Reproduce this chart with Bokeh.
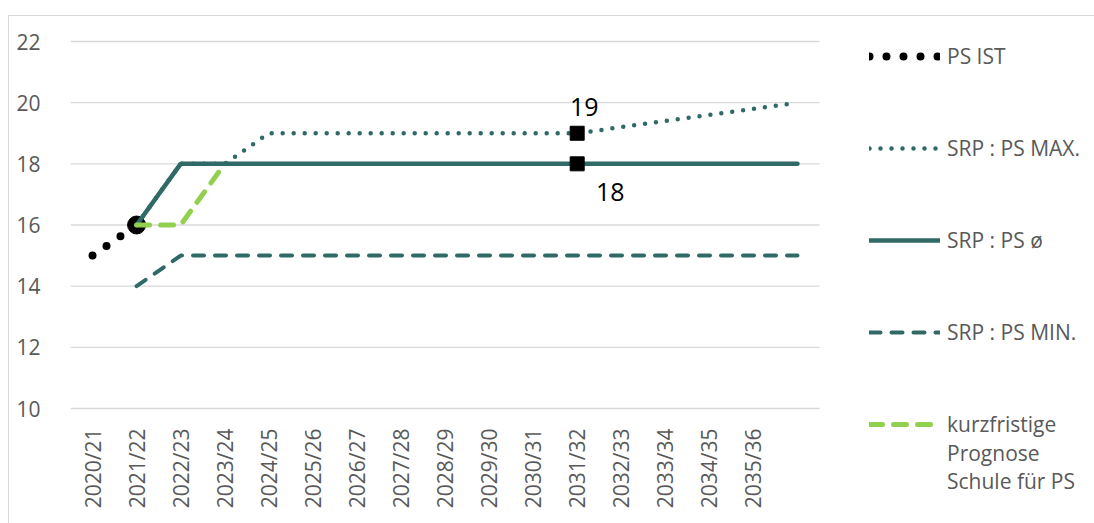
from bokeh.plotting import figure
from bokeh.models import Range1d, Legend, LegendItem, ColumnDataSource
from bokeh.embed import file_html
from bokeh.resources import INLINE
from bokeh.core.properties import value
import math

# categories (last slot has no label in the original chart)
categories = ["2020/21", "2021/22", "2022/23", "2023/24", "2024/25", "2025/26",
              "2026/27", "2027/28", "2028/29", "2029/30", "2030/31", "2031/32",
              "2032/33", "2033/34", "2034/35", "2035/36", ""]

ist_cat = ["2020/21", "2021/22"]
ist_y = [15, 16]

max_cat = categories[1:]
max_y = [16, 18, 18, 19, 19, 19, 19, 19, 19, 19, 19, 19.2, 19.4, 19.6, 19.8, 20]

avg_cat = categories[1:]
avg_y = [16, 18, 18, 18, 18, 18, 18, 18, 18, 18, 18, 18, 18, 18, 18, 18]

min_cat = categories[1:]
min_y = [14, 15, 15, 15, 15, 15, 15, 15, 15, 15, 15, 15, 15, 15, 15, 15]

prog_cat = ["2021/22", "2022/23", "2023/24"]
prog_y = [16, 16, 18]

mark_cat = ["2031/32", "2031/32"]
mark_y = [19, 18]
mark_text = ["19", "18"]

y_ticks = [10, 12, 14, 16, 18, 20, 22]

TEAL = "#2f6a66"
GREEN = "#92d050"
GREY = "#595959"
FONT = "Open Sans"


def pos(cats):
    return [categories.index(c) for c in cats]


n = len(categories)
# frame spans the whole figure; the category block occupies the left 749 of 1025 px
x_end = -0.5 + n * 1025 / 749
px_per_unit = 367 / 12
y_top = y_ticks[-1] + 25 / px_per_unit
y_bottom = y_ticks[0] - 116 / px_per_unit

p = figure(width=1086, height=508, x_range=Range1d(-0.5, x_end),
           y_range=Range1d(y_bottom, y_top), output_backend="svg", toolbar_location=None,
           x_axis_location=None,
           min_border_left=61, min_border_right=0, min_border_top=0, min_border_bottom=0,
           margin=(15, 0, 0, 8))
p.styles = {"border-top": "1px solid #d9d9d9", "border-left": "1px solid #d9d9d9"}
p.outline_line_color = None
p.background_fill_color = "white"
p.border_fill_color = "white"
p.grid.grid_line_color = None

p.yaxis.ticker = y_ticks
p.yaxis.axis_line_color = None
p.yaxis.major_tick_line_color = None
p.yaxis.minor_tick_line_color = None
p.yaxis.major_label_text_font = FONT
p.yaxis.major_label_text_font_size = "21px"
p.yaxis.major_label_text_color = GREY
p.yaxis.major_label_standoff = 24

# horizontal gridlines across the category block
p.segment(x0=-0.5, x1=n - 0.5, y0=y_ticks, y1=y_ticks, line_color="#d9d9d9", line_width=1.3)

# category labels (vertical)
p.text(x=list(range(n)), y=y_ticks[0], text=categories, angle=math.pi / 2,
       y_offset=20, text_align="right", text_baseline="middle",
       text_font=value(FONT), text_font_size="21px", text_color=GREY)

r_ist = p.line(pos(ist_cat), ist_y, line_color="black", line_width=8, line_dash="0 17",
               line_cap="round")
p.scatter(pos(ist_cat[-1:]), ist_y[-1:], size=18, color="black")

r_max = p.line(pos(max_cat), max_y, line_color=TEAL, line_width=4.5, line_dash="0 11",
               line_cap="round")
r_avg = p.line(pos(avg_cat), avg_y, line_color=TEAL, line_width=4.5, line_cap="round")
r_min = p.line(pos(min_cat), min_y, line_color=TEAL, line_width=4, line_dash="11 11",
               line_cap="round")
r_prog = p.line(pos(prog_cat), prog_y, line_color=GREEN, line_width=5, line_dash="13 11",
                line_cap="round")
r_blank = p.line(x=[], y=[], line_alpha=0)

p.scatter(pos(mark_cat), mark_y, marker="square", size=14, color="black")
src = ColumnDataSource(dict(x=pos(mark_cat), y=mark_y, t=mark_text,
                            dx=[7, 33], dy=[-26, 28]))
p.text(x="x", y="y", text="t", x_offset="dx", y_offset="dy", source=src,
       text_font=value(FONT), text_font_size="25px", text_color="black",
       text_align="center", text_baseline="middle")


def style_legend(lg, spacing):
    lg.padding = 0
    lg.margin = 0
    lg.spacing = spacing
    lg.glyph_width = 71
    lg.glyph_height = 28
    lg.label_height = 28
    lg.label_standoff = 7
    lg.label_text_font = FONT
    lg.label_text_font_size = "21px"
    lg.label_text_color = GREY
    lg.border_line_color = None
    lg.background_fill_alpha = 0


legend_a = Legend(items=[
    LegendItem(label="PS IST", renderers=[r_ist]),
    LegendItem(label="SRP : PS MAX.", renderers=[r_max]),
    LegendItem(label="SRP : PS \u00f8", renderers=[r_avg]),
    LegendItem(label="SRP : PS MIN.", renderers=[r_min]),
    LegendItem(label="kurzfristige", renderers=[r_prog]),
], location=(799, 86))
style_legend(legend_a, 64)

legend_b = Legend(items=[
    LegendItem(label="Prognose", renderers=[r_blank]),
    LegendItem(label="Schule f\u00fcr PS", renderers=[r_blank]),
], location=(799, 29))
style_legend(legend_b, 0)

p.add_layout(legend_a, "center")
p.add_layout(legend_b, "center")

open("out.html", "w").write(file_html(p, INLINE))
